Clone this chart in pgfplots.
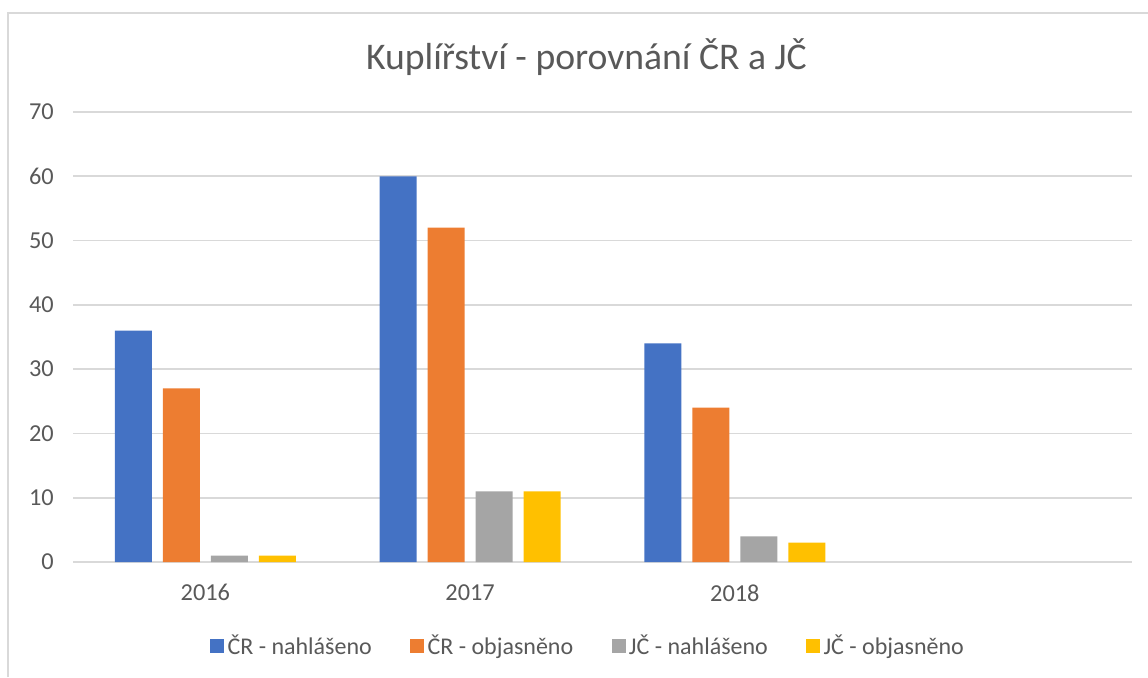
\documentclass[border=0pt]{standalone}
\usepackage{pgfplots}
\pgfplotsset{compat=1.18}
\usepackage{fontspec}
\setmainfont{Carlito}
\definecolor{cblue}{HTML}{4472C4}
\definecolor{corange}{HTML}{ED7D31}
\definecolor{cgray}{HTML}{A5A5A5}
\definecolor{cyellow}{HTML}{FFC000}
\definecolor{gridc}{HTML}{D9D9D9}
\definecolor{txt}{HTML}{595959}
\begin{document}
\begin{tikzpicture}[x=0.6pt,y=0.6pt]
\useasboundingbox (0,0) rectangle (1148,677);
\draw[gridc, line width=1.2pt] (8,0) -- (8,664) -- (1148,664);
\node[text=txt, font=\fontsize{22.6}{26}\selectfont] at (586.5,620) {Kuplířství - porovnání ČR a JČ};
\begin{axis}[
  at={(43.8pt,69pt)}, anchor=south west,
  width=635.4pt, height=270pt, scale only axis,
  xmin=-0.5, xmax=3.5, ymin=0, ymax=70,
  ybar=6.6pt, bar width=22.2pt,
  xtick={0,1,2}, xticklabels={2016,2017,2018},
  ytick={0,10,...,70},
  ymajorgrids, grid style={draw=gridc, line width=1pt},
  axis line style={draw=none},
  major tick length=0pt, tick style={draw=none},
  tick label style={font=\fontsize{14.6}{16}\selectfont, text=txt},
  yticklabel style={xshift=-8pt},
  xticklabel style={yshift=-10pt},
  /pgf/number format/assume math mode=true,
  legend style={at={(0.487,-0.187)}, anchor=center, draw=none, fill=none,
    legend columns=4, font=\fontsize{14.4}{16}\selectfont, text=txt,
    /tikz/every even column/.append style={column sep=21pt}},
  legend image code/.code={\fill[#1,draw=none] (0pt,-4.2pt) rectangle (8.4pt,4.2pt);},
]
\addplot[fill=cblue, draw=none] coordinates {(0,36) (1,60) (2,34)};
\addplot[fill=corange, draw=none] coordinates {(0,27) (1,52) (2,24)};
\addplot[fill=cgray, draw=none] coordinates {(0,1) (1,11) (2,4)};
\addplot[fill=cyellow, draw=none] coordinates {(0,1) (1,11) (2,3)};
\legend{ČR - nahlášeno, ČR - objasněno, JČ - nahlášeno, JČ - objasněno}
\end{axis}
\end{tikzpicture}
\end{document}
